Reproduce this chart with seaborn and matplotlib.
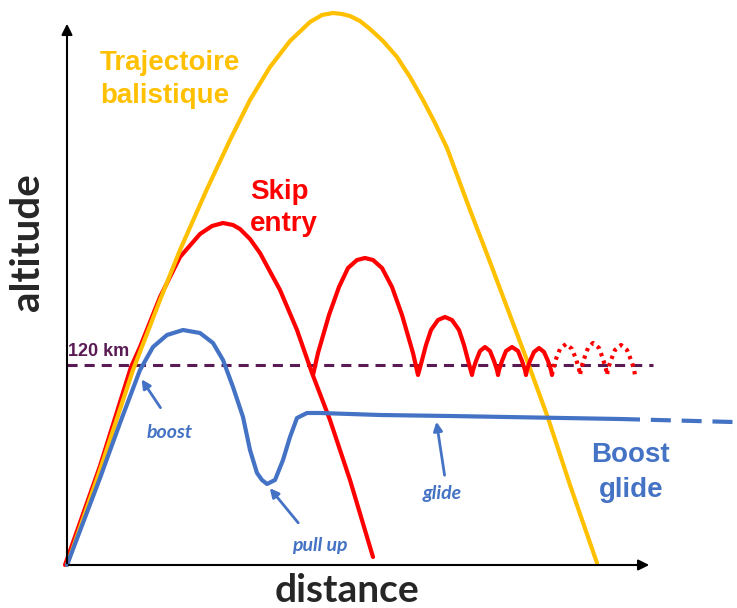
import numpy as np
import pandas as pd
import matplotlib
matplotlib.use("Agg")
import matplotlib.pyplot as plt
import seaborn as sns

# schematic trajectories (distance, altitude in picture rows: 0 = top)
ballistic_x = [67, 100, 133, 160, 180, 207, 230, 250, 270, 290, 310, 322, 333, 342, 350, 360, 370,
               383, 397, 410, 423, 435, 447, 470, 490, 505, 528, 548, 570, 597]
ballistic_y = [565, 470, 370, 300, 250, 189, 140, 100, 67, 41, 22, 15, 13, 14, 16, 21, 29,
               41, 57, 77, 100, 123, 148, 210, 262, 302, 363, 418, 485, 563]

skip_x = [65, 100, 131, 140, 160, 180, 200, 212, 223, 233, 240, 250, 260, 280, 297, 312, 330, 350, 373]
skip_y = [565, 466, 367, 347, 297, 257, 234, 226, 223, 225, 229, 239, 253, 290, 330, 373, 420, 480, 557]

bounce_x = [313, 318, 329, 339, 348, 357, 365, 373, 382, 392, 402, 413, 418,
            421, 426, 431, 438, 445, 452, 459, 464, 469, 472,
            473, 476, 480, 485, 490, 494, 497, 498,
            499, 502, 506, 512, 518, 522, 525, 526,
            527, 530, 534, 539, 544, 548, 551, 552]
bounce_y = [375, 353, 315, 287, 268, 260, 258, 260, 268, 287, 315, 353, 375,
            364, 345, 330, 320, 317, 320, 330, 345, 364, 375,
            370, 361, 351, 347, 351, 361, 370, 375,
            370, 361, 351, 347, 351, 361, 370, 375,
            370, 361, 352, 348, 352, 361, 370, 375]

dotted_x = [552, 553, 556, 560, 566, 572, 576, 579, 580,
            581, 584, 588, 593, 599, 603, 606, 607,
            608, 611, 615, 621, 627, 631, 634, 635]
dotted_y = [375, 369, 359, 349, 344, 349, 359, 369, 375,
            369, 359, 348, 343, 348, 359, 369, 375,
            369, 360, 350, 345, 350, 360, 369, 375]

glide_x = [67, 100, 120, 140, 153, 167, 183, 200, 213, 223, 233, 243, 250, 257, 262, 267, 275,
           283, 290, 297, 307, 320, 380, 450, 620]
glide_y = [565, 478, 423, 370, 347, 335, 330, 333, 343, 360, 387, 417, 450, 473, 480, 484, 480,
           460, 437, 418, 413, 413, 415, 416, 419]

glide_end_x = [620, 733]
glide_end_y = [419, 422]

limit_x = [67, 653]
limit_y = [365, 365]

yellow = "#FFC000"
red = "#FF0000"
blue = "#4472C4"
purple = "#5A1B55"

sns.set_style("white")
fig = plt.figure(figsize=(7.37, 6.08), dpi=100)
ax = fig.add_axes([0, 0, 1, 1])


def draw(x, y, color, lw, ls="-"):
    d = pd.DataFrame({"distance": x, "altitude": y})
    sns.lineplot(data=d, x="distance", y="altitude", sort=False, estimator=None,
                 color=color, lw=lw, linestyle=ls, ax=ax, solid_joinstyle="round",
                 solid_capstyle="round")


draw(limit_x, limit_y, purple, 2.2, (0, (3.3, 2.3)))
draw(skip_x, skip_y, red, 3)
draw(ballistic_x, ballistic_y, yellow, 3)
draw(bounce_x, bounce_y, red, 3)
draw(dotted_x, dotted_y, red, 3, (0, (0.8, 1.1)))
draw(glide_x, glide_y, blue, 3)
draw(glide_end_x, glide_end_y, blue, 3, (0, (4.8, 2.6)))
ax.set_xlim(0, 737)
ax.set_ylim(608, 0)
ax.axis("off")

# axes arrows
ax.annotate("", xy=(67, 21), xytext=(67, 566),
            arrowprops=dict(arrowstyle="-|>", lw=1.5, color="black", mutation_scale=16))
ax.annotate("", xy=(652, 565), xytext=(66, 565),
            arrowprops=dict(arrowstyle="-|>", lw=1.5, color="black", mutation_scale=16))

# phase arrows
arr = dict(arrowstyle="-|>", lw=2, color=blue, mutation_scale=13)
ax.annotate("", xy=(140, 377), xytext=(162, 410), arrowprops=arr)
ax.annotate("", xy=(268, 486), xytext=(300, 525), arrowprops=arr)
ax.annotate("", xy=(436, 419), xytext=(445, 478), arrowprops=arr)

# labels
ax.text(28, 242, "altitude", rotation=90, ha="center", va="center",
        fontsize=29, fontweight="bold", family="Lato")
ax.text(347, 590, "distance", ha="center", va="center",
        fontsize=28, fontweight="bold", family="Lato")

big = dict(fontsize=20, fontweight="bold", family="Liberation Sans", va="baseline")
ax.text(100, 70, "Trajectoire", color=yellow, ha="left", **big)
ax.text(100, 103, "balistique", color=yellow, ha="left", **big)
ax.text(250, 199, "Skip", color=red, ha="left", **big)
ax.text(250, 231, "entry", color=red, ha="left", **big)
ax.text(630, 462, "Boost", color=blue, ha="center", **big)
ax.text(631, 497, "glide", color=blue, ha="center", **big)

ax.text(68, 356, "120 km", color=purple, fontsize=13, fontweight="bold",
        family="Liberation Sans", ha="left", va="baseline")

small = dict(color=blue, fontsize=14, fontweight="bold", style="italic",
             family="Lato", ha="center", va="center")
ax.text(170, 433, "boost", **small)
ax.text(320, 546, "pull up", **small)
ax.text(442, 494, "glide", **small)

fig.savefig("out.png", dpi=100)
